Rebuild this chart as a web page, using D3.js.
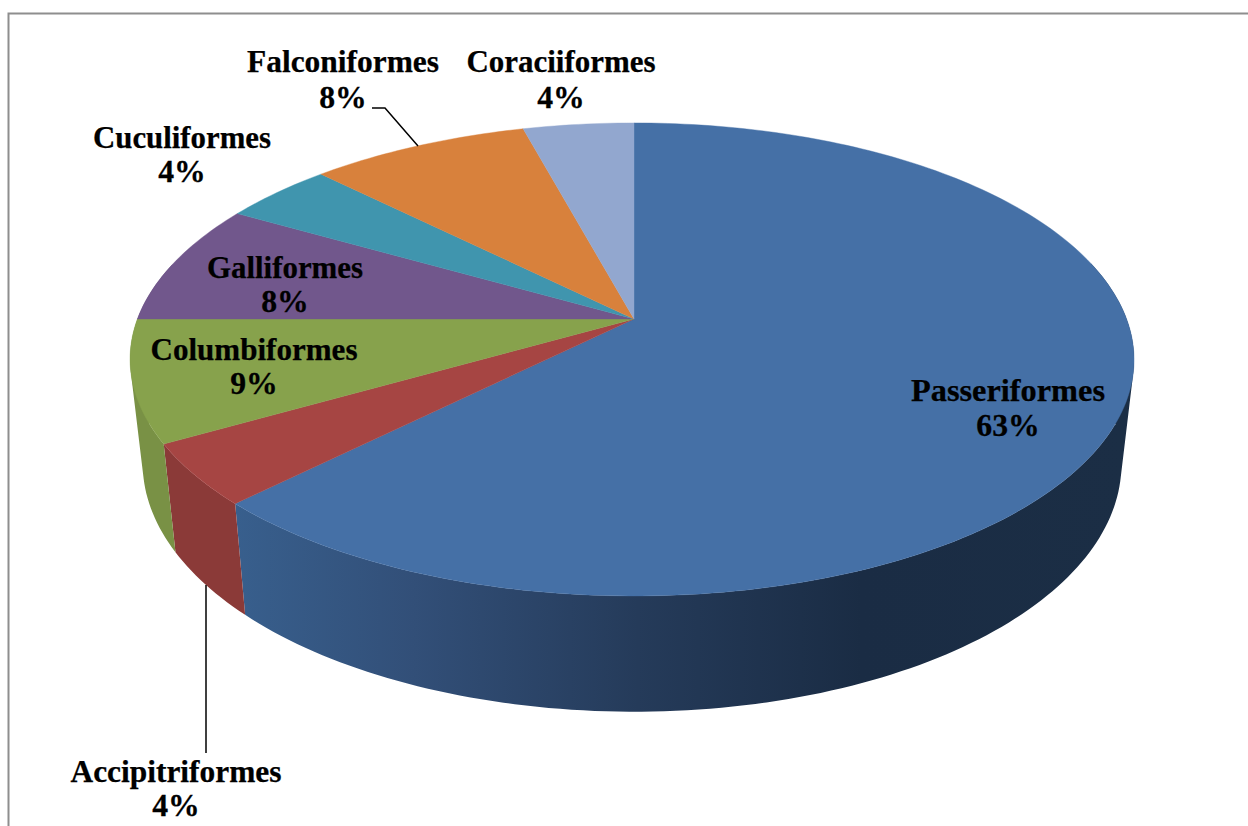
<!DOCTYPE html>
<html><head><meta charset="utf-8">
<style>html,body{margin:0;padding:0;background:#fff}svg{display:block}text{font-family:"Liberation Serif",serif;font-weight:700;fill:#000;stroke:#000;stroke-width:0.25}</style>
<script src="https://cdn.jsdelivr.net/npm/d3@7/dist/d3.min.js"></script>
</head><body><svg id="c" width="1248" height="826"></svg>
<script>
const categories = ["Passeriformes","Accipitriformes","Columbiformes","Galliformes","Cuculiformes","Falconiformes","Coraciiformes"];
const shares = [62.5,4.2,8.3,8.3,4.2,8.3,4.2];
// percentages as printed on the chart
const percentLabels = ["63%","4%","9%","8%","4%","8%","4%"];
const topColors = ["#4570a6","#a64543","#87a24c","#71578c","#4095ae","#d8813c","#92a7cf"];
const sideColors = ["#355a84","#8b3a38","#799145","#5e4875","#357d92","#b56b31","#7a8bad"];
// label centre x, the baselines of its two lines, and the name's rendered width
const labelX = [1008,176,254,285,182,343,561];
const labelY = [[401,436],[782,816],[360,394],[278,312],[148,182],[72,108],[72,108]];
const labelW = [194,211,207,156,178,192,189];

const svg = d3.select("#c");
const k = 0.171, cx = 634;
// Perspective projection of the unit disc; the lower face is slightly narrower and offset.
const topFace = {cy:319, A:494.6, B:229.6};
const botFace = {cy:421, A:482.2, B:241};
const project = (f,a)=>{const u=Math.sin(a), v=-Math.cos(a), w=1-k*v; return [cx+f.A*u/w-2*(1-v*v), f.cy+f.B*v/w];};
const arcs = d3.pie().sort(null).value(d=>d).startAngle(0).endAngle(2*Math.PI)(shares);
const angleSteps = (a0,a1)=>{const n=Math.max(2,Math.ceil((a1-a0)/0.02)); return d3.range(n+1).map(i=>a0+(a1-a0)*i/n);};

// border
svg.append("path").attr("d","M8.5,826V13.5H1248").attr("fill","none").attr("stroke","#8e8e8e").attr("stroke-width",2);

// gradient for the big side wall
const defs = svg.append("defs");
const g0 = defs.append("linearGradient").attr("id","side0").attr("gradientUnits","userSpaceOnUse").attr("x1",235).attr("x2",1130).attr("y1",0).attr("y2",0);
[[0,"#385f8d"],[0.2,"#324f78"],[0.45,"#253b5a"],[0.7,"#1a2c44"],[1,"#1b2e45"]].forEach(s=>g0.append("stop").attr("offset",s[0]).attr("stop-color",s[1]));

// side walls: one path per slice, all quads wound the same way so nonzero fill has no seams
const line = d3.line();
const sides = svg.append("g");
arcs.forEach((d,i)=>{
  const as = angleSteps(d.startAngle,d.endAngle);
  const quads = [];
  d3.pairs(as).forEach(([a,b])=>{
    if (Math.cos((a+b)/2) > 0.25) return;  // rear of the pie is hidden behind the top face
    const q = [project(topFace,a),project(topFace,b),project(botFace,b),project(botFace,a)];
    if (d3.polygonArea(q) < 0) q.reverse();
    quads.push(line(q)+"Z");
  });
  sides.append("path").attr("d",quads.join("")).attr("fill",i===0?"url(#side0)":sideColors[i]).attr("fill-rule","nonzero");
});

// top face
svg.append("g").selectAll("path").data(arcs).join("path")
  .attr("d",d=>line([[cx,topFace.cy],...angleSteps(d.startAngle,d.endAngle).map(a=>project(topFace,a))])+"Z")
  .attr("fill",(d,i)=>topColors[i]).attr("stroke",(d,i)=>topColors[i]).attr("stroke-width",0.4);

// leader lines
svg.append("path").attr("d",line([[206,585],[206,753]])).attr("fill","none").attr("stroke","#000").attr("stroke-width",1.5);
svg.append("path").attr("d",line([[372,108],[385,108],[418,146]])).attr("fill","none").attr("stroke","#000").attr("stroke-width",1.5);

// labels
const lab = svg.append("g").attr("text-anchor","middle").attr("font-size",30.5);
categories.forEach((c,i)=>{
  lab.append("text").attr("x",labelX[i]).attr("y",labelY[i][0])
    .attr("textLength",labelW[i]).attr("lengthAdjust","spacingAndGlyphs").text(c);
  lab.append("text").attr("transform",`translate(${labelX[i]},${labelY[i][1]}) scale(1.04,1)`).text(percentLabels[i]);
});
</script></body></html>
